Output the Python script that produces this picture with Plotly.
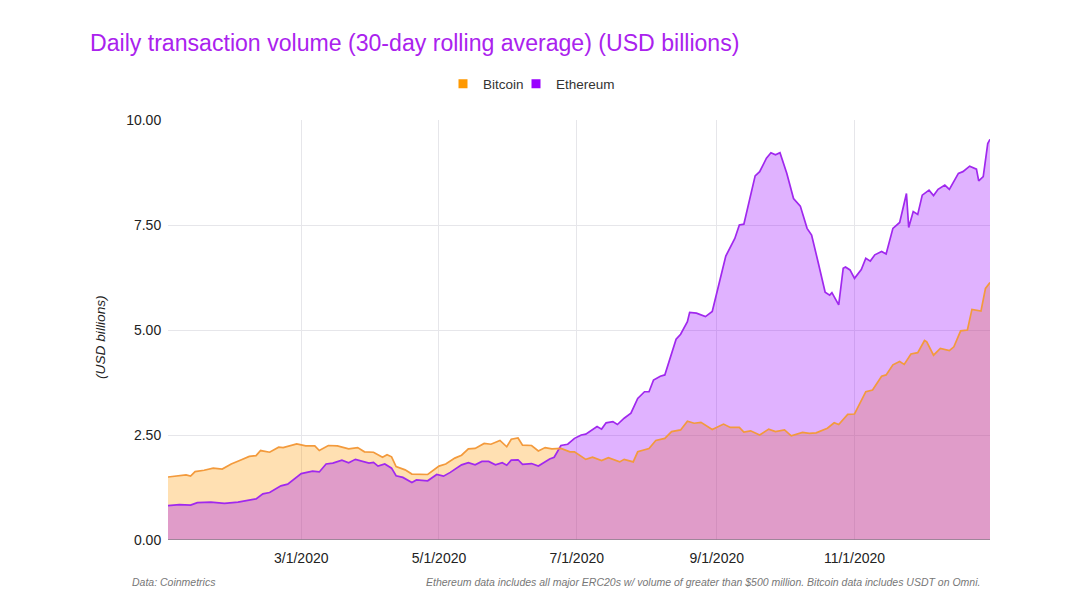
import plotly.graph_objects as go
import pandas as pd

START = "2020-01-02"
title_text = "Daily transaction volume (30-day rolling average) (USD billions)"
tick_dates = ["2020-03-01", "2020-05-01", "2020-07-01", "2020-09-01", "2020-11-01"]
tick_labels = ["3/1/2020", "5/1/2020", "7/1/2020", "9/1/2020", "11/1/2020"]
y_ticks = [0, 2.5, 5, 7.5, 10]

btc_days = [0,4,8,10,12,16,20,24,28,32,36,39,41,45,49,51,57,61,65,67,71,75,80,84,87,91,95,97,99,101,105,108,
            115,120,123,127,130,133,136,140,143,147,150,152,155,157,161,164,167,170,174,178,180,185,188,192,195,
            200,202,206,208,213,216,220,223,227,230,233,236,241,246,249,253,255,258,262,266,269,273,276,281,284,
            287,292,295,297,301,304,309,312,316,318,321,324,326,329,332,335,336,339,342,346,348,351,354,356,360,362,364]
btc_vals = [1.50,1.52,1.55,1.52,1.63,1.66,1.71,1.69,1.81,1.90,1.99,2.01,2.13,2.09,2.21,2.20,2.29,2.24,2.24,2.13,2.25,2.24,2.17,2.20,2.10,2.09,1.97,2.03,1.98,1.75,1.67,1.57,
            1.56,1.76,1.81,1.95,2.02,2.17,2.18,2.30,2.28,2.37,2.22,2.40,2.43,2.26,2.25,2.12,2.20,2.17,2.18,2.10,2.10,1.92,1.97,1.89,1.96,
            1.86,1.92,1.86,2.10,2.18,2.37,2.42,2.58,2.62,2.83,2.78,2.80,2.63,2.76,2.68,2.68,2.57,2.60,2.50,2.64,2.58,2.62,2.48,2.56,2.54,
            2.55,2.66,2.79,2.75,2.99,3.00,3.53,3.57,3.90,3.93,4.17,4.25,4.18,4.43,4.46,4.75,4.72,4.40,4.56,4.51,4.60,4.98,5.00,5.49,5.45,5.99,6.13]

eth_days = [0,5,10,13,19,25,31,39,42,45,50,53,59,64,67,70,73,77,80,83,89,91,93,96,99,101,104,108,110,115,119,122,125,
            130,133,136,139,142,145,148,150,152,155,157,161,164,169,171,174,177,180,183,185,188,190,192,194,197,199,202,205,
            208,211,213,215,218,220,225,227,230,231,234,238,241,244,247,251,253,255,258,260,262,265,267,269,271,274,277,280,
            283,285,288,291,293,294,297,299,300,302,304,307,309,311,313,316,318,321,324,327,328,330,332,334,337,339,341,344,
            346,350,352,355,358,359,361,363,364]
eth_vals = [0.82,0.84,0.83,0.89,0.90,0.87,0.90,0.98,1.10,1.13,1.29,1.33,1.58,1.64,1.62,1.81,1.83,1.90,1.84,1.92,1.83,1.85,1.76,1.81,1.71,1.53,1.49,1.37,1.43,1.41,1.56,1.52,1.61,
            1.79,1.84,1.79,1.87,1.87,1.79,1.84,1.78,1.90,1.91,1.80,1.82,1.76,1.93,1.97,2.25,2.28,2.42,2.50,2.52,2.63,2.70,2.64,2.79,2.82,2.75,2.90,3.02,
            3.37,3.53,3.53,3.81,3.90,3.93,4.78,4.90,5.20,5.42,5.40,5.32,5.44,6.11,6.76,7.18,7.50,7.52,8.21,8.67,8.77,9.09,9.22,9.17,9.22,8.73,8.13,7.95,
            7.42,7.26,6.59,5.90,5.83,5.89,5.60,6.47,6.50,6.43,6.23,6.44,6.71,6.64,6.79,6.87,6.81,7.42,7.56,8.25,7.44,7.82,7.75,8.21,8.33,8.20,8.35,8.45,
            8.35,8.73,8.77,8.90,8.83,8.55,8.65,9.44,9.54]

ORANGE, PURPLE = "#ff9900", "#9900ff"
start = pd.Timestamp(START)
btc_x = [start + pd.Timedelta(days=d) for d in btc_days]
eth_x = [start + pd.Timedelta(days=d) for d in eth_days]

fig = go.Figure()
# fills first (purple over orange gives the pink overlap), then both lines on top
fig.add_trace(go.Scatter(x=btc_x, y=btc_vals, mode="none", showlegend=False,
                         fill="tozeroy", fillcolor="rgba(255,153,0,0.3)"))
fig.add_trace(go.Scatter(x=eth_x, y=eth_vals, mode="none", showlegend=False,
                         fill="tozeroy", fillcolor="rgba(153,0,255,0.3)"))
fig.add_trace(go.Scatter(x=eth_x, y=eth_vals, mode="lines", showlegend=False,
                         line=dict(color="#a028ee", width=1.7)))
fig.add_trace(go.Scatter(x=btc_x, y=btc_vals, mode="lines", showlegend=False,
                         line=dict(color="#f39a3c", width=1.7)))
fig.add_trace(go.Scatter(x=[None], y=[None], mode="markers", name="Bitcoin", legend="legend",
                         marker=dict(symbol="square", size=9, color=ORANGE)))
fig.add_trace(go.Scatter(x=[None], y=[None], mode="markers", name="Ethereum", legend="legend2",
                         marker=dict(symbol="square", size=9, color=PURPLE)))

# The page adds an 8 px body margin, so the figure is 16 px smaller than the window.
PLOT_W, PLOT_H = 822, 420
legend_font = dict(size=13.5, color="#333333")
note_font = dict(size=10.5, color="#777777")
clear = "rgba(0,0,0,0)"
fig.update_layout(
    width=1064, height=592, autosize=False,
    margin=dict(l=160, r=82, t=112, b=60),
    paper_bgcolor="white", plot_bgcolor="white",
    font=dict(family="Liberation Sans, Arial", size=14, color="#222222"),
    title=dict(text=title_text, x=82/1064, xanchor="left", y=1-35/592, yanchor="middle",
               font=dict(size=23.1, color="#aa22ee")),
    legend=dict(x=(443-168)/PLOT_W, xanchor="left", y=1+36/PLOT_H, yanchor="middle", font=legend_font, bgcolor=clear),
    legend2=dict(x=(516-168)/PLOT_W, xanchor="left", y=1+36/PLOT_H, yanchor="middle", font=legend_font, bgcolor=clear),
    xaxis=dict(range=[START, "2020-12-31"], tickmode="array", tickvals=tick_dates, ticktext=tick_labels,
               showgrid=True, gridcolor="#e6e6ea", gridwidth=1, zeroline=False,
               ticks="outside", ticklen=5, tickcolor=clear, showline=False,
               tickfont=dict(size=14, color="#222222")),
    yaxis=dict(range=[0, 10], tickmode="array", tickvals=y_ticks, tickformat=".2f",
               showgrid=True, gridcolor="#e6e6ea", gridwidth=1, zeroline=False,
               ticks="outside", ticklen=3, tickcolor=clear, showline=False,
               tickfont=dict(size=14, color="#222222")),
    shapes=[dict(type="line", xref="paper", yref="y", x0=0, x1=1, y0=0, y1=0, line=dict(color="#8a7f8a", width=1.5))],
    annotations=[
        dict(text="<i>(USD billions)</i>", xref="paper", yref="paper", x=(100-168)/PLOT_W, y=(540-337)/PLOT_H,
             textangle=-90, xanchor="center", yanchor="middle", showarrow=False,
             font=dict(size=13.7, color="#222222")),
        dict(text="<i>Data: Coinmetrics</i>", xref="paper", yref="paper", x=(130-168)/PLOT_W,
             y=-42/PLOT_H, xanchor="left", yanchor="middle", showarrow=False, font=note_font),
        dict(text="<i>Ethereum data includes all major ERC20s w/ volume of greater than $500 million. Bitcoin data includes USDT on Omni.</i>",
             xref="paper", yref="paper", x=(982-168)/PLOT_W, y=-42/PLOT_H, xanchor="right", yanchor="middle", showarrow=False,
             font=note_font),
    ],
)
fig.write_html("out.html", config=dict(displayModeBar=False))
